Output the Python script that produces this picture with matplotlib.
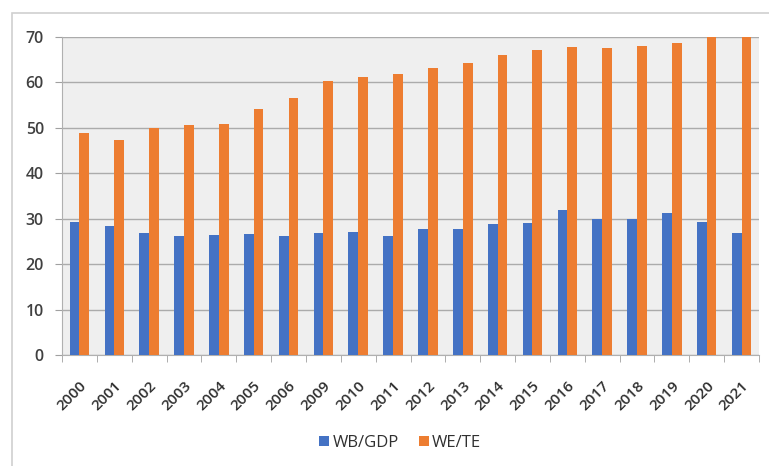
import matplotlib
matplotlib.use("Agg")
import matplotlib.pyplot as plt
import numpy as np
from matplotlib.patches import Rectangle

years = ["2000", "2001", "2002", "2003", "2004", "2005", "2006", "2009", "2010", "2011",
         "2012", "2013", "2014", "2015", "2016", "2017", "2018", "2019", "2020", "2021"]
wb_gdp = [29.2, 28.3, 26.8, 26.1, 26.4, 26.6, 26.1, 26.8, 27.0, 26.3,
          27.7, 27.7, 28.8, 29.0, 31.9, 30.0, 29.9, 31.3, 29.2, 26.8]
we_te = [48.8, 47.4, 49.9, 50.7, 50.9, 54.1, 56.6, 60.3, 61.2, 61.9,
         63.1, 64.3, 66.1, 67.1, 67.8, 67.5, 68.1, 68.6, 70.0, 70.3]
yticks = [0, 10, 20, 30, 40, 50, 60, 70]

plt.rcParams['font.family'] = ['Open Sans', 'DejaVu Sans']

fig = plt.figure(figsize=(7.69, 4.66), dpi=100)
fig.patches.append(Rectangle((12/769, -0.1), 1.2, 1 - 13/466 + 0.1, transform=fig.transFigure,
                             fill=False, edgecolor='#d0d0d0', linewidth=1.2, zorder=0))
ax = fig.add_axes([62/769, 1 - 355/466, (759 - 62)/769, (355 - 37)/466])
ax.set_facecolor('#efefef')

x = np.arange(len(years))
w = 0.28
ax.bar(x - w/2, wb_gdp, width=w, color='#4472C4', label='WB/GDP', zorder=3)
ax.bar(x + w/2, we_te, width=w, color='#ED7D31', label='WE/TE', zorder=3)

ax.set_xlim(-0.5, len(years) - 0.5)
ax.set_ylim(0, 70)
ax.set_yticks(yticks)
ax.set_yticklabels([str(v) for v in yticks], fontsize=11.5, color='#404040', fontweight='semibold')
ax.yaxis.grid(True, color='#ababab', linewidth=1, zorder=1)
ax.set_axisbelow(True)

ax.set_xticks(x)
ax.set_xticklabels(years, rotation=45, ha='right', rotation_mode='anchor', fontsize=11,
                   color='#303030', fontweight='semibold')
ax.set_xticks(np.arange(-0.5, len(years)), minor=True)
ax.tick_params(axis='x', which='major', length=0, pad=17)
ax.tick_params(axis='x', which='minor', length=5, color='#a0a0a0')
ax.tick_params(axis='y', length=5, color='#a0a0a0', pad=8)

for s in ['top', 'right']:
    ax.spines[s].set_visible(False)
ax.spines['left'].set_color('#b0b0b0')
ax.spines['bottom'].set_color('#b0b0b0')

leg = fig.legend(loc='center', bbox_to_anchor=(400/769, 1 - 443/466), ncol=2, frameon=False,
                 fontsize=12, handlelength=0.6, handleheight=0.6, columnspacing=1.2, handletextpad=0.2)
for t in leg.get_texts():
    t.set_color('#303030')

fig.savefig('out.png', dpi=100, facecolor='white')
